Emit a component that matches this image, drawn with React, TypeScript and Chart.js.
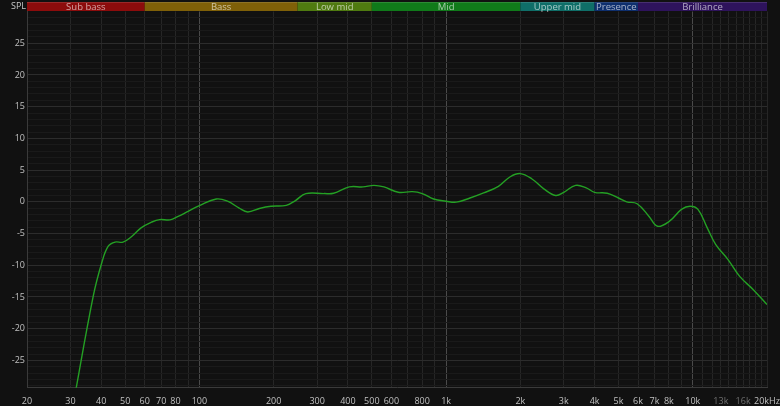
import React, { useEffect, useRef } from "react";
import { Chart, registerables } from "chart.js";

Chart.register(...registerables);

const FREQ = [31, 37.1, 40.2, 42.7, 45.5, 49, 53, 58, 64, 69, 76, 82, 90, 100, 117, 130, 145, 157, 175, 195, 225, 245, 270, 320, 350, 405, 460, 510, 560, 640, 730, 800, 890, 1000, 1100, 1250, 1420, 1630, 1820, 2000, 2230, 2490, 2780, 3000, 3350, 3700, 4000, 4500, 5000, 5400, 5950, 6650, 7200, 8050, 9000, 9750, 10500, 11450, 12400, 13900, 15500, 17600, 20000];
const SPL = [-31.3, -14.9, -9.6, -7.0, -6.35, -6.35, -5.5, -4.1, -3.2, -2.8, -2.85, -2.3, -1.5, -0.6, 0.45, 0.1, -1.0, -1.6, -1.05, -0.7, -0.55, 0.2, 1.3, 1.3, 1.35, 2.35, 2.35, 2.6, 2.35, 1.5, 1.6, 1.3, 0.45, 0.1, -0.05, 0.6, 1.4, 2.45, 3.95, 4.45, 3.6, 2.05, 1.0, 1.5, 2.6, 2.2, 1.5, 1.35, 0.6, 0.0, -0.3, -2.3, -3.85, -3.05, -1.2, -0.7, -1.2, -4.1, -6.75, -9.1, -11.75, -13.85, -16.2];

const X_TICKS = [20, 30, 40, 50, 60, 70, 80, 90, 100, 200, 300, 400, 500, 600, 700, 800, 900, 1000, 2000, 3000, 4000, 5000, 6000, 7000, 8000, 9000, 10000, 11000, 12000, 13000, 14000, 15000, 16000, 17000, 18000, 19000, 20000];
const X_LABEL_VALUES = [20, 30, 40, 50, 60, 70, 80, 100, 200, 300, 400, 500, 600, 800, 1000, 2000, 3000, 4000, 5000, 6000, 7000, 8000, 10000, 13000, 16000, 20000];
const X_LABELS = ["20", "30", "40", "50", "60", "70", "80", "100", "200", "300", "400", "500", "600", "800", "1k", "2k", "3k", "4k", "5k", "6k", "7k", "8k", "10k", "13k", "16k", "20kHz"];
const X_DIM_LABELS = [13000, 16000];
const X_MAJOR_LINES = [100, 1000, 10000];

const BAND_NAMES = ["Sub bass", "Bass", "Low mid", "Mid", "Upper mid", "Presence", "Brilliance"];
const BAND_EDGES = [20, 60, 250, 500, 2000, 4000, 6000, 20000];
const BAND_COLORS = ["#8c0c0c", "#7f6008", "#4f7a10", "#107a1a", "#0f6e68", "#0e2f6e", "#2e135c"];

const Y_MIN = -29.3;
const Y_MAX = 30;

const FONT = "'Open Sans', 'Noto Sans', sans-serif";

const bandPlugin = {
  id: "bands",
  afterDraw(chart: any) {
    const { ctx, chartArea, scales } = chart;
    const xs = scales.x;
    ctx.save();
    const top = 2;
    const h = 9;
    for (let i = 0; i < BAND_NAMES.length; i++) {
      const x0 = xs.getPixelForValue(BAND_EDGES[i]);
      const x1 = xs.getPixelForValue(BAND_EDGES[i + 1]);
      ctx.fillStyle = BAND_COLORS[i];
      ctx.fillRect(x0, top, x1 - x0, h);
      ctx.fillStyle = "rgba(255,255,255,0.12)";
      ctx.fillRect(x0, top, x1 - x0, 1);
      ctx.fillStyle = "rgba(255,255,255,0.62)";
      ctx.font = `9.5px ${FONT}`;
      ctx.textAlign = "center";
      ctx.textBaseline = "middle";
      ctx.fillText(BAND_NAMES[i], (x0 + x1) / 2, top + h / 2 + 0.5);
    }
    ctx.fillStyle = "#c8c8c8";
    ctx.font = `9px ${FONT}`;
    ctx.textAlign = "right";
    ctx.textBaseline = "middle";
    ctx.fillText("SPL", chartArea.left - 1, 6);
    ctx.restore();
  },
};

export default function App() {
  const ref = useRef<HTMLCanvasElement | null>(null);
  useEffect(() => {
    document.body.style.margin = "0";
    document.body.style.background = "#111111";
    const chart = new Chart(ref.current as HTMLCanvasElement, {
      type: "line",
      data: {
        datasets: [
          {
            data: FREQ.map((f, i) => ({ x: f, y: SPL[i] })),
            borderColor: "#24a024",
            borderWidth: 1.4,
            pointRadius: 0,
            tension: 0.4,
            fill: false,
          },
        ],
      },
      options: {
        animation: false,
        responsive: false,
        maintainAspectRatio: false,
        layout: { padding: { top: 11.5, right: 13, left: 0, bottom: 0 } },
        plugins: { legend: { display: false }, tooltip: { enabled: false } },
        scales: {
          x: {
            type: "logarithmic",
            min: 20,
            max: 20000,
            afterBuildTicks: (scale: any) => {
              scale.ticks = X_TICKS.map((v) => ({ value: v }));
            },
            afterFit: (scale: any) => {
              scale.height = 18.3;
              scale.paddingLeft = 0;
              scale.paddingRight = 0;
            },
            ticks: {
              autoSkip: false,
              maxRotation: 0,
              padding: 8,
              font: { family: FONT, size: 9 },
              color: (c: any) => (X_DIM_LABELS.includes(c.tick?.value) ? "#707070" : "#c0c0c0"),
              callback: (v: any) => {
                const i = X_LABEL_VALUES.indexOf(Number(v));
                return i >= 0 ? X_LABELS[i] : "";
              },
            },
            grid: {
              drawTicks: false,
              color: (c: any) => (X_MAJOR_LINES.includes(c.tick?.value) ? "#4a4a4a" : "#262626"),
              lineWidth: 1,
            },
            border: { color: "#3a3a3a" },
          },
          y: {
            type: "linear",
            min: Y_MIN,
            max: Y_MAX,
            afterBuildTicks: (scale: any) => {
              const t = [];
              for (let v = -29; v <= 29; v++) t.push({ value: v });
              scale.ticks = t;
            },
            afterFit: (scale: any) => {
              scale.width = 27;
              scale.paddingTop = 0;
              scale.paddingBottom = 0;
            },
            ticks: {
              autoSkip: false,
              padding: 2,
              font: { family: FONT, size: 9 },
              color: "#c0c0c0",
              callback: (v: any) => (Number(v) % 5 === 0 && Math.abs(Number(v)) < 30 ? String(v) : ""),
            },
            grid: {
              drawTicks: false,
              color: (c: any) => (c.tick && c.tick.value % 5 === 0 ? "#2c2c2c" : "#1a1a1a"),
              lineWidth: 1,
            },
            border: { color: "#3a3a3a" },
          },
        },
      },
      plugins: [bandPlugin],
    } as any);
    return () => chart.destroy();
  }, []);
  return (
    <div style={{ position: "fixed", left: 0, top: 0, width: 780, height: 406, background: "#111111" }}>
      <canvas ref={ref} width={780} height={406} style={{ display: "block" }} />
    </div>
  );
}
